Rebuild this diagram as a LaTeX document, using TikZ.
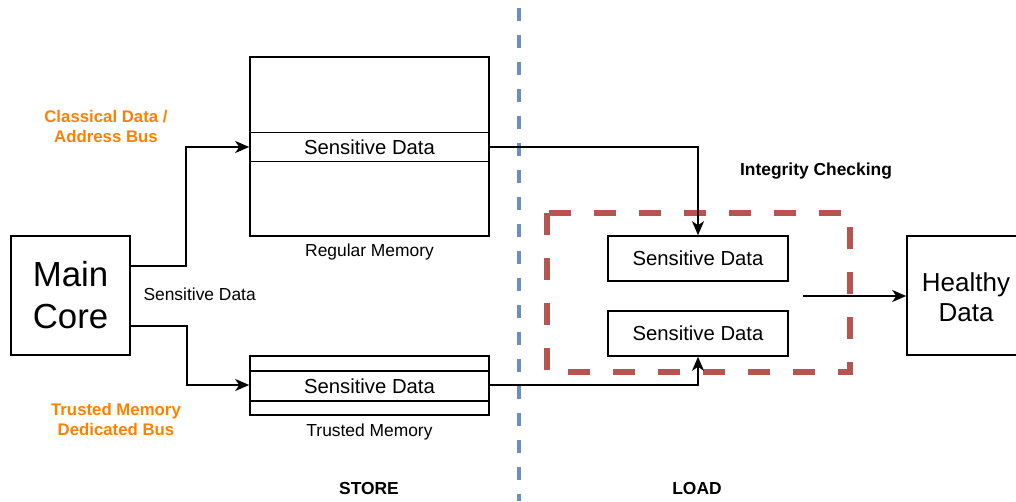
\documentclass[tikz,border=0pt]{standalone}
\usepackage{fontspec}
\setmainfont{Liberation Sans}
\usetikzlibrary{arrows.meta}
\definecolor{orangelbl}{HTML}{FF8000}
\definecolor{bluedash}{HTML}{6C8EBF}
\definecolor{reddash}{HTML}{B85450}
\tikzset{
  box/.style={draw=black, line width=1.6pt, fill=white, inner sep=0pt},
  conn/.style={draw=black, line width=1.6pt, -{Stealth[length=14pt,width=12pt,inset=4pt]}},
  sd/.style={font=\fontsize{20.3}{24}\selectfont},
  small/.style={font=\fontsize{17.4}{21}\selectfont},
  big/.style={font=\fontsize{34.8}{42}\selectfont, align=center},
  mid/.style={font=\fontsize{26}{30}\selectfont, align=center},
  orangelab/.style={font=\bfseries\fontsize{16.8}{20}\selectfont, text=orangelbl, align=center},
  boldlab/.style={font=\bfseries\fontsize{17.4}{21}\selectfont},
}
\begin{document}
\begin{tikzpicture}[x=1pt,y=-1pt]
\useasboundingbox (0,0) rectangle (1016,501);
\begin{scope}
\clip (0,0) rectangle (1016,501);

% blue divider
\draw[bluedash, line width=4.5pt, dash pattern=on 13.5pt off 13.5pt, dash phase=-7.5pt] (519,0) -- (519,501);

% Main core
\node[box, big, minimum width=119pt, minimum height=119pt] (core) at (70.5,295.5) {Main\\Core};

% regular memory
\node[box, minimum width=239pt, minimum height=179pt] (regmem) at (369.5,146.5) {};
\node[box, sd, minimum width=239pt, minimum height=29pt] (regsd) at (369.5,147) {Sensitive Data};
\node[small] (reglbl) at (369.5,252) {Regular Memory};

% trusted memory
\node[box, minimum width=239pt, minimum height=59pt] (trmem) at (369.5,385.5) {};
\node[box, sd, minimum width=239pt, minimum height=30pt] (trsd) at (369.5,386) {Sensitive Data};
\node[small] (trlbl) at (369.5,432) {Trusted Memory};

% labels
\node[orangelab] (cls) at (106,126) {Classical Data /\\Address Bus};
\node[orangelab] (tmb) at (116,419) {Trusted Memory\\Dedicated Bus};
\node[small, anchor=west] (sdl) at (140,294) {Sensitive Data};

% connectors from core
\draw[conn] (core.east |- 0,266) -- (186,266) -- (186,147) -- (regsd.west);
\draw[conn] (core.east |- 0,326) -- (187,326) -- (187,385) -- (trsd.west |- 0,385);

% red dashed integrity box
\draw[reddash, line width=6pt, dash pattern=on 22pt off 23pt] (547,213) rectangle (850,372);
\node[box, sd, minimum width=180pt, minimum height=45pt] (chk1) at (698,258.5) {Sensitive Data};
\node[box, sd, minimum width=180pt, minimum height=45pt] (chk2) at (698,333.5) {Sensitive Data};
\node[boldlab] (integ) at (816,171) {Integrity Checking};

% connectors to check boxes
\draw[conn] (regsd.east) -- (698,147) -- (chk1.north);
\draw[conn] (trsd.east |- 0,385) -- (698,385) -- (chk2.south);

% healthy data
\node[box, minimum width=119pt, minimum height=119pt] (healthy) at (966.5,295.5) {};
\node[mid] (htext) at (966,297) {Healthy\\Data};
\coordinate (hstart) at (803,296);
\draw[conn] (hstart) -- (healthy.west |- hstart);

% phase labels
\node[boldlab] (store) at (369,488) {STORE};
\node[boldlab] (load) at (697,488) {LOAD};
\end{scope}
\end{tikzpicture}
\end{document}
